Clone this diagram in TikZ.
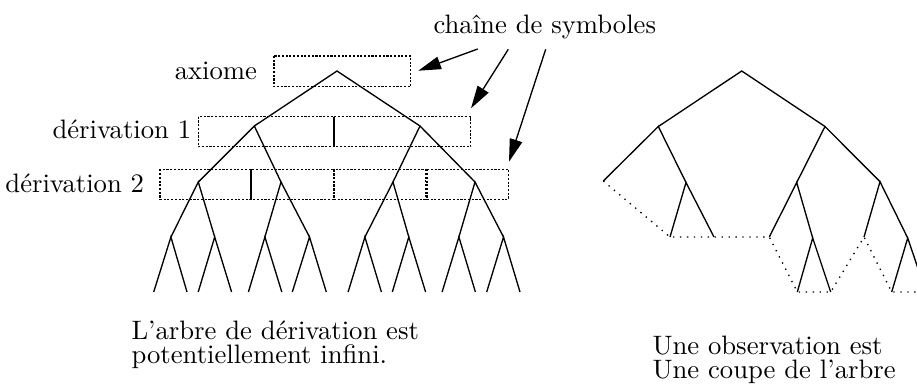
\documentclass[tikz,border=0pt]{standalone}
\usetikzlibrary{arrows.meta}
\begin{document}
\begin{tikzpicture}[x=0.375pt,y=-0.375pt,
  branch/.style={line width=0.5pt},
  cut/.style={line width=0.5pt, dash pattern=on 0.5pt off 2.1pt},
  dotbox/.style={line width=0.4pt, dash pattern=on 0.8pt off 0.6pt},
  sep/.style={line width=0.4pt},
  pointer/.style={line width=0.5pt, -{Triangle[length=8.5pt,width=4.8pt]}},
  lbl/.style={inner sep=0pt, font=\fontsize{10}{12}\selectfont}]
\useasboundingbox (0,0) rectangle (917,383);

% ---------- labels ----------
\node[lbl, anchor=base west] (csym) at (433,33) {chaîne de symboles};
\node[lbl, anchor=base east] (laxiome) at (257.5,79) {axiome};
\node[lbl, anchor=base east] (lder1) at (191.7,138) {dérivation 1};
\node[lbl, anchor=base east] (lder2) at (144.6,192) {dérivation 2};
\node[lbl, anchor=base west] (ltxt1) at (131,339) {L'arbre de dérivation est};
\node[lbl, anchor=base west] (ltxt2) at (131,363) {potentiellement infini.};
\node[lbl, anchor=base west] (rtxt1) at (652,354) {Une observation est};
\node[lbl, anchor=base west] (rtxt2) at (652,378) {Une coupe de l'arbre};

% ---------- boxes ----------
\coordinate (axA) at (274,56);   \coordinate (axB) at (410.7,86.7);
\coordinate (d1A) at (198.3,116.7); \coordinate (d1B) at (470.7,146.7);
\coordinate (d2A) at (160,169.3);  \coordinate (d2B) at (334,199.3);
\coordinate (d2C) at (334,169.3);  \coordinate (d2D) at (425.3,199.3);
\coordinate (d2E) at (427,169.3);  \coordinate (d2F) at (508.3,199.3);
\draw[dotbox] (axA) rectangle (axB);
\draw[dotbox] (d1A) rectangle (d1B);
\draw[dotbox] (d2A) rectangle (d2B);
\draw[dotbox] (d2C) rectangle (d2D);
\draw[dotbox] (d2E) rectangle (d2F);
\coordinate (s1t) at (334,116.7); \coordinate (s1b) at (334,146.7);
\coordinate (s2t) at (251,169.3); \coordinate (s2b) at (251,199.3);
\draw[sep] (s1t) -- (s1b);
\draw[sep] (s2t) -- (s2b);

% ---------- arrows ----------
\coordinate (p1s) at (477.7,49);   \coordinate (p1e) at (418.3,70.7);
\coordinate (p2s) at (508.3,49.3); \coordinate (p2e) at (471,108.3);
\coordinate (p3s) at (545.7,49.3); \coordinate (p3e) at (509,161.7);
\draw[pointer] (p1s) -- (p1e);
\draw[pointer] (p2s) -- (p2e);
\draw[pointer] (p3s) -- (p3e);

% ---------- left tree ----------
\coordinate (L0) at (337,71);
\coordinate (L1a) at (254.3,126); \coordinate (L1b) at (420,126);
\coordinate (L2a) at (198.3,182); \coordinate (L2b) at (281,182);
\coordinate (L2c) at (393,182);   \coordinate (L2d) at (475,182);
\coordinate (L3a) at (170.9,237); \coordinate (L3b) at (214.7,237);
\coordinate (L3c) at (264.9,237); \coordinate (L3d) at (309.5,237);
\coordinate (L3e) at (364.9,237); \coordinate (L3f) at (408.8,237);
\coordinate (L3g) at (458.9,237); \coordinate (L3h) at (503.5,237);
\foreach \n/\x in {1/153.7,2/187,3/198.2,4/231.6,5/248.4,6/281.8,7/292.3,8/326.3,
                   9/348.1,10/381.4,11/392.3,12/425.6,13/442.1,14/475.4,15/486.7,16/520}
  {\coordinate (LL\n) at (\x,292);}
\draw[branch] (L1a) -- (L0) -- (L1b);
\draw[branch] (L2a) -- (L1a) -- (L2b);
\draw[branch] (L2c) -- (L1b) -- (L2d);
\draw[branch] (L3a) -- (L2a) -- (L3b);
\draw[branch] (L3c) -- (L2b) -- (L3d);
\draw[branch] (L3e) -- (L2c) -- (L3f);
\draw[branch] (L3g) -- (L2d) -- (L3h);
\draw[branch] (LL1) -- (L3a) -- (LL2);
\draw[branch] (LL3) -- (L3b) -- (LL4);
\draw[branch] (LL5) -- (L3c) -- (LL6);
\draw[branch] (LL7) -- (L3d) -- (LL8);
\draw[branch] (LL9) -- (L3e) -- (LL10);
\draw[branch] (LL11) -- (L3f) -- (LL12);
\draw[branch] (LL13) -- (L3g) -- (LL14);
\draw[branch] (LL15) -- (L3h) -- (LL16);

% ---------- right tree ----------
\coordinate (R0) at (741.7,71);
\coordinate (R1a) at (658.3,126.5); \coordinate (R1b) at (825,126.5);
\coordinate (R2a) at (603.3,181);   \coordinate (R2b) at (686,182.5);
\coordinate (R2c) at (796.7,182.5); \coordinate (R2d) at (880,181.7);
\coordinate (R3a) at (670,237);     \coordinate (R3b) at (714,237);
\coordinate (R3c) at (769.3,237);   \coordinate (R3d) at (812.7,238);
\coordinate (R3e) at (864,237);     \coordinate (R3f) at (907.7,238);
\coordinate (R4a) at (797.3,292);   \coordinate (R4b) at (830.7,292);
\coordinate (R4c) at (891.7,292);   \coordinate (R4d) at (926,292);
\draw[branch] (R1a) -- (R0) -- (R1b);
\draw[branch] (R2a) -- (R1a) -- (R2b);
\draw[branch] (R2c) -- (R1b) -- (R2d);
\draw[branch] (R3a) -- (R2b) -- (R3b);
\draw[branch] (R3c) -- (R2c) -- (R3d);
\draw[branch] (R3e) -- (R2d) -- (R3f);
\draw[branch] (R4a) -- (R3d) -- (R4b);
\draw[branch] (R4c) -- (R3f) -- (R4d);
\draw[cut] (R2a) -- (R3a) -- (R3b) -- (R3c) -- (R4a) -- (R4b) -- (R3e) -- (R4c) -- (R4d);
\end{tikzpicture}
\end{document}
